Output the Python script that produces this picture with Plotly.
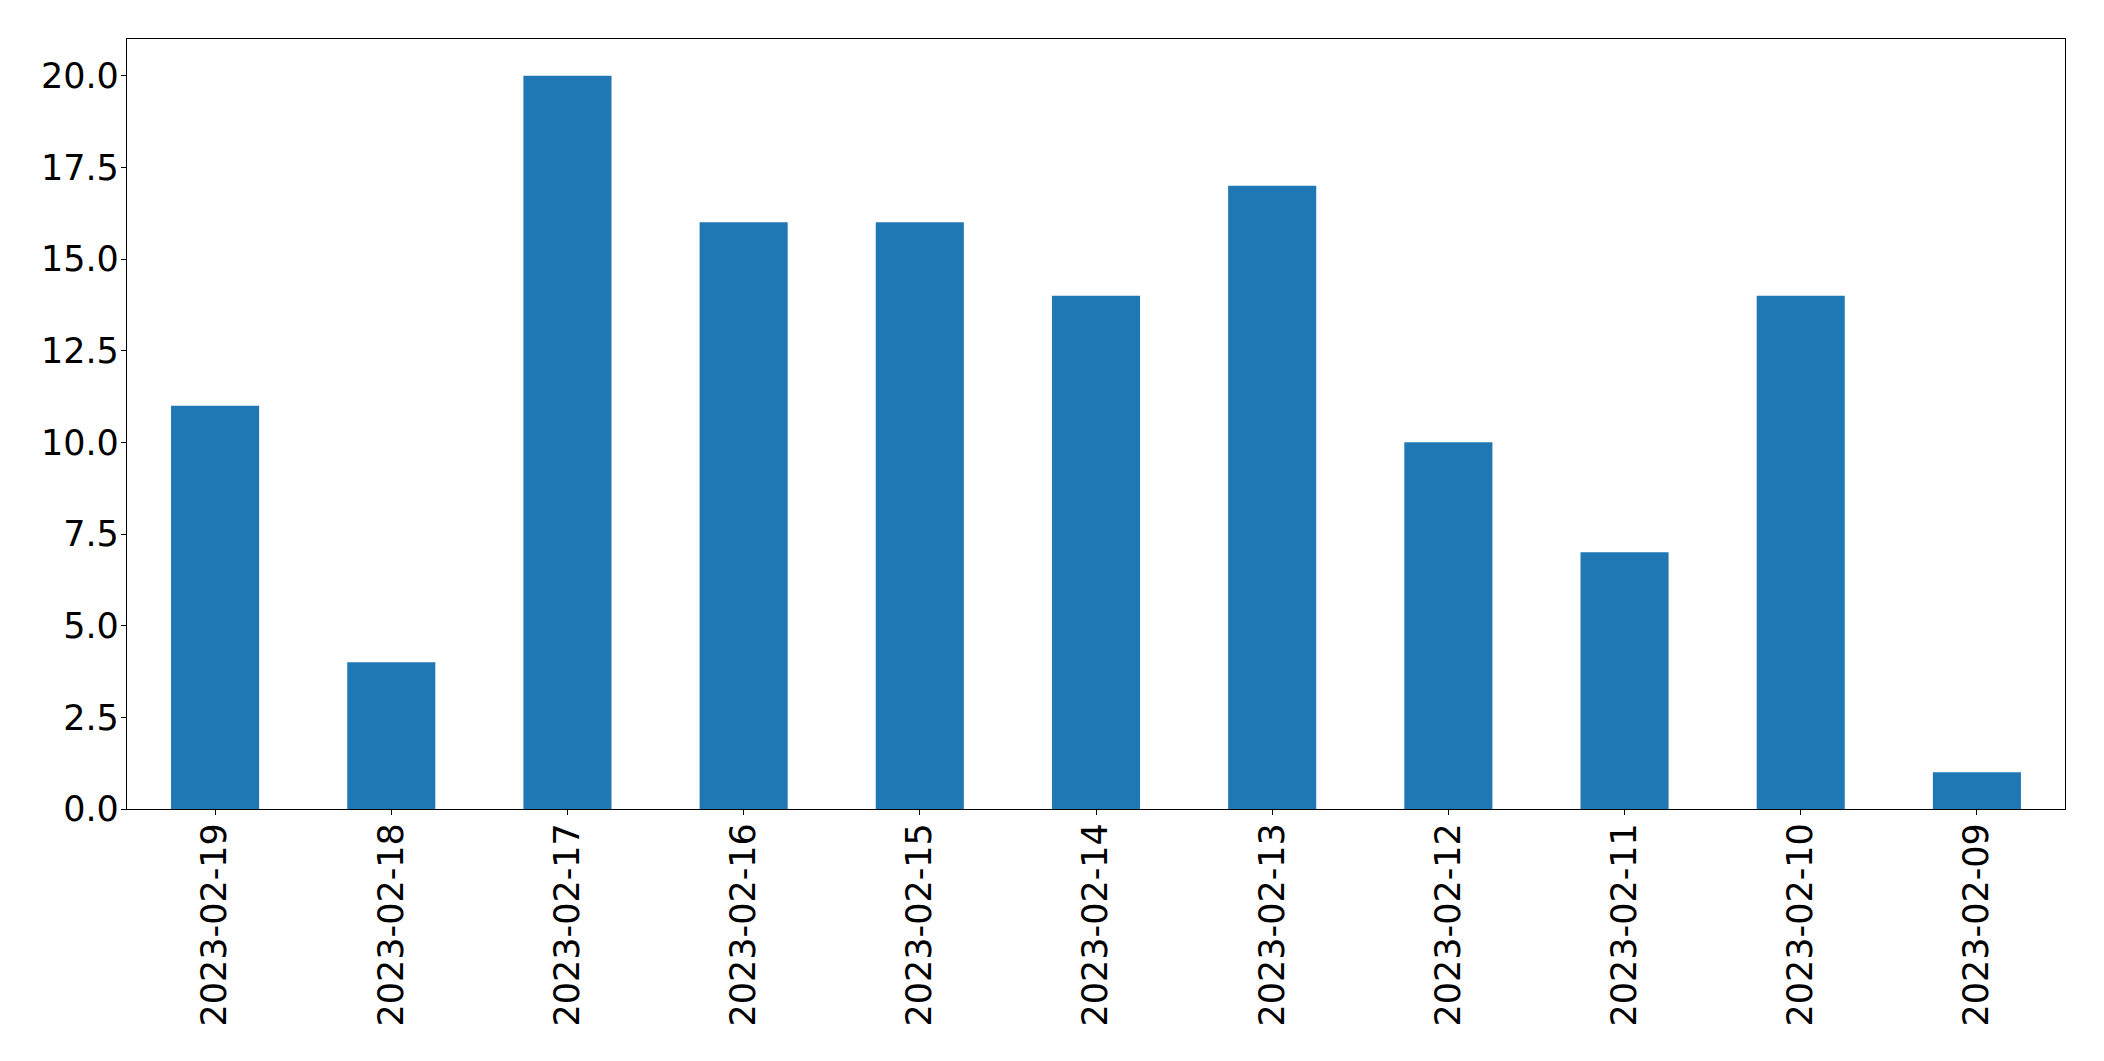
import plotly.graph_objects as go

dates = ["2023-02-19", "2023-02-18", "2023-02-17", "2023-02-16", "2023-02-15",
         "2023-02-14", "2023-02-13", "2023-02-12", "2023-02-11", "2023-02-10", "2023-02-09"]
counts = [11, 4, 20, 16, 16, 14, 17, 10, 7, 14, 1]
y_ticks = [0, 2.5, 5, 7.5, 10, 12.5, 15, 17.5, 20]
y_tick_labels = ["0.0", "2.5", "5.0", "7.5", "10.0", "12.5", "15.0", "17.5", "20.0"]

fig = go.Figure(go.Bar(x=dates, y=counts, width=0.5, marker=dict(color="#1f77b4", line=dict(width=0))))

# page body has an 8px default margin; compensate so the plot area lands at the reference pixels
fig.update_layout(
    width=2096, height=1053,
    margin=dict(l=119, r=39, t=31, b=252, pad=0, autoexpand=False),
    paper_bgcolor="white", plot_bgcolor="white",
    font=dict(family="DejaVu Sans", size=35, color="black"),
    showlegend=False,
)
fig.update_xaxes(
    type="category", range=[-0.5, 10.5], tickangle=-90,
    showline=True, linecolor="black", linewidth=1.3, mirror=True,
    ticks="outside", ticklen=5, tickwidth=1.3, tickcolor="black",
    showgrid=False, zeroline=False, automargin=False,
    ticklabelstandoff=-6,
)
fig.update_yaxes(
    range=[0, 21], tickvals=y_ticks, ticktext=y_tick_labels,
    showline=True, linecolor="black", linewidth=1.3, mirror=True,
    ticks="outside", ticklen=5, tickwidth=1.3, tickcolor="black",
    showgrid=False, zeroline=False, automargin=False,
    ticklabelstandoff=-5,
)

fig.write_html("out.html")
